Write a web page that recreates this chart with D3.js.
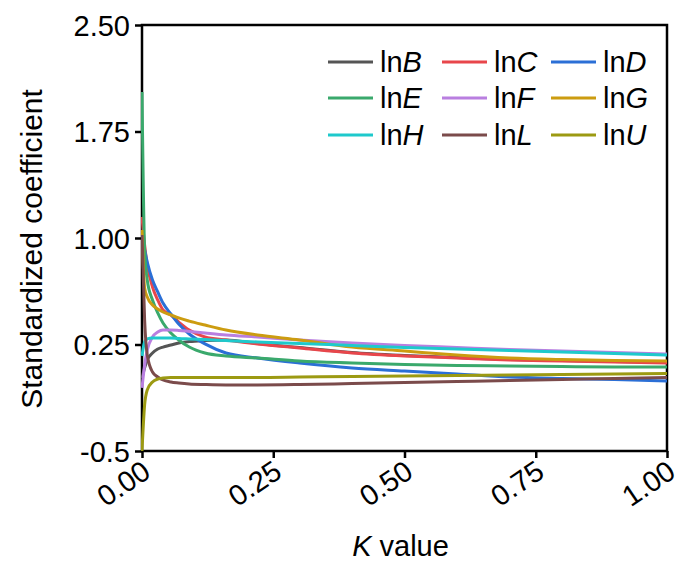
<!DOCTYPE html>
<html>
<head>
<meta charset="utf-8">
<script src="https://cdn.jsdelivr.net/npm/d3@7"></script>
<style>
  html, body { margin: 0; padding: 0; background: #fff; }
  svg text { font-family: "Liberation Sans", Arial, sans-serif; fill: #000; }
</style>
</head>
<body>
<div id="chart"></div>
<script>
// ridge trace values
const kValues = [0, 0.005, 0.01, 0.02, 0.03, 0.04, 0.055, 0.07, 0.09, 0.12, 0.16, 0.22, 0.3, 0.4, 0.5, 0.6, 0.7, 0.8, 0.9, 1.0];

const lnB = [0.014, 0.085, 0.141, 0.190, 0.218, 0.232, 0.246, 0.261, 0.271, 0.278, 0.282, 0.257, 0.229, 0.194, 0.173, 0.158, 0.144, 0.137, 0.130, 0.123];
const lnC = [1.148, 0.951, 0.810, 0.655, 0.563, 0.493, 0.458, 0.408, 0.352, 0.303, 0.282, 0.254, 0.225, 0.190, 0.169, 0.155, 0.141, 0.134, 0.127, 0.120];
const lnD = [1.000, 0.916, 0.831, 0.704, 0.620, 0.542, 0.465, 0.394, 0.324, 0.254, 0.190, 0.155, 0.120, 0.085, 0.063, 0.042, 0.021, 0.011, 0.004, -0.007];
const lnE = [2.028, 0.916, 0.704, 0.563, 0.472, 0.401, 0.331, 0.282, 0.232, 0.190, 0.169, 0.155, 0.134, 0.120, 0.109, 0.102, 0.099, 0.095, 0.092, 0.092];
const lnF = [-0.056, 0.106, 0.211, 0.303, 0.338, 0.352, 0.352, 0.349, 0.342, 0.331, 0.317, 0.303, 0.282, 0.261, 0.243, 0.229, 0.215, 0.204, 0.194, 0.183];
const lnG = [1.056, 0.648, 0.585, 0.528, 0.500, 0.479, 0.458, 0.437, 0.415, 0.387, 0.352, 0.317, 0.282, 0.232, 0.204, 0.176, 0.155, 0.144, 0.137, 0.134];
const lnH = [0.169, 0.268, 0.289, 0.296, 0.296, 0.296, 0.296, 0.292, 0.289, 0.285, 0.278, 0.268, 0.257, 0.243, 0.229, 0.218, 0.208, 0.197, 0.187, 0.176];
const lnL = [1.021, 0.423, 0.176, 0.056, 0.021, 0.000, -0.014, -0.021, -0.028, -0.032, -0.035, -0.035, -0.032, -0.025, -0.018, -0.011, -0.004, 0.004, 0.011, 0.018];
const lnU = [-0.500, -0.176, -0.070, -0.014, 0.007, 0.014, 0.018, 0.018, 0.018, 0.018, 0.018, 0.018, 0.021, 0.025, 0.028, 0.032, 0.035, 0.039, 0.042, 0.046];

const seriesNames = ['B', 'C', 'D', 'E', 'F', 'G', 'H', 'L', 'U'];
const seriesValues = [lnB, lnC, lnD, lnE, lnF, lnG, lnH, lnL, lnU];
const seriesColors = ['#555555', '#e8464b', '#2b6fd6', '#3aa96c', '#b97fe0', '#cc9c10', '#1ec9cc', '#7b4b4b', '#9c9a12'];

const xTicks = [0, 0.25, 0.5, 0.75, 1.0];
const xTickLabels = ['0.00', '0.25', '0.50', '0.75', '1.00'];
const yTicks = [-0.5, 0.25, 1.0, 1.75, 2.5];
const yTickLabels = ['-0.5', '0.25', '1.00', '1.75', '2.50'];

const width = 681;
const height = 561;
const margin = { top: 25, right: 14, bottom: 110, left: 142 };
const innerW = width - margin.left - margin.right;
const innerH = height - margin.top - margin.bottom;
const fontSize = '29px';

const svg = d3.select('#chart').append('svg')
  .attr('width', width)
  .attr('height', height);

const g = svg.append('g')
  .attr('transform', `translate(${margin.left},${margin.top})`);

const x = d3.scaleLinear().domain([0, 1]).range([0, innerW]);
const y = d3.scaleLinear().domain([-0.5, 2.5]).range([innerH, 0]);

g.append('clipPath').attr('id', 'plot-clip')
  .append('rect')
  .attr('x', -1).attr('y', -1)
  .attr('width', innerW + 2).attr('height', innerH + 2);

// y axis
const yAxis = g.append('g')
  .call(d3.axisLeft(y).tickValues(yTicks).tickSize(7).tickPadding(5)
    .tickFormat((d, i) => yTickLabels[i]));
yAxis.select('.domain').remove();
yAxis.selectAll('line').attr('stroke', '#000').attr('stroke-width', 2.5);
yAxis.selectAll('text').style('font-size', fontSize).attr('dy', '0.35em');

// x axis, labels slanted
const xAxis = g.append('g')
  .attr('transform', `translate(0,${innerH})`)
  .call(d3.axisBottom(x).tickValues(xTicks).tickSize(7)
    .tickFormat((d, i) => xTickLabels[i]));
xAxis.select('.domain').remove();
xAxis.selectAll('line').attr('stroke', '#000').attr('stroke-width', 2.5);
xAxis.selectAll('text')
  .style('font-size', fontSize)
  .attr('text-anchor', 'end')
  .attr('y', 0)
  .attr('dy', 0)
  .attr('transform', 'translate(10,25) rotate(-34)');

// frame
g.append('rect')
  .attr('x', 0).attr('y', 0)
  .attr('width', innerW).attr('height', innerH)
  .attr('fill', 'none')
  .attr('stroke', '#000')
  .attr('stroke-width', 2.5);

// curves
const line = d3.line()
  .x((d, i) => x(kValues[i]))
  .y(d => y(d))
  .curve(d3.curveMonotoneX);

g.append('g').attr('clip-path', 'url(#plot-clip)')
  .selectAll('path')
  .data(seriesValues)
  .join('path')
  .attr('d', line)
  .attr('fill', 'none')
  .attr('stroke', (d, i) => seriesColors[i])
  .attr('stroke-width', 3)
  .attr('stroke-linejoin', 'round');

// legend, 3 columns x 3 rows
const legend = g.append('g');
const colX = [186, 300, 409];
const rowY = [37, 73, 110];
seriesNames.forEach((name, i) => {
  const lx = colX[i % 3];
  const ly = rowY[Math.floor(i / 3)];
  legend.append('line')
    .attr('x1', lx).attr('x2', lx + 45)
    .attr('y1', ly).attr('y2', ly)
    .attr('stroke', seriesColors[i])
    .attr('stroke-width', 3);
  const t = legend.append('text')
    .attr('x', lx + 52).attr('y', ly)
    .attr('dy', '0.36em')
    .style('font-size', fontSize);
  t.append('tspan').text('ln');
  t.append('tspan').style('font-style', 'italic').text(name);
});

// axis titles
svg.append('text')
  .attr('transform', `translate(${margin.left + innerW / 2 - 4},556)`)
  .attr('text-anchor', 'middle')
  .style('font-size', fontSize)
  .call(t => {
    t.append('tspan').style('font-style', 'italic').text('K');
    t.append('tspan').text(' value');
  });

svg.append('text')
  .attr('transform', 'translate(42,249) rotate(-90)')
  .attr('text-anchor', 'middle')
  .style('font-size', '30px')
  .text('Standardized coefficient');
</script>
</body>
</html>
